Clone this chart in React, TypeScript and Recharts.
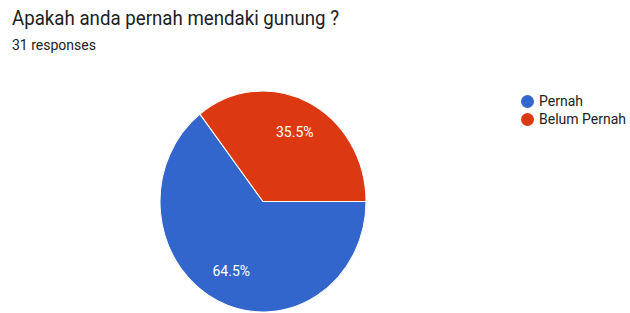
import { PieChart, Pie, Cell } from "recharts";

const categories = ["Pernah", "Belum Pernah"];
const responses = [20, 11];
const colors = ["#3366cc", "#dc3912"];
const title = "Apakah anda pernah mendaki gunung ?";
const subtitle = "31 responses";

const data = categories.map((name, i) => ({ name, value: responses[i] }));

const RAD = Math.PI / 180;

const renderLabel = (props: any) => {
  const { cx, cy, midAngle, outerRadius, percent } = props;
  const r = outerRadius * 0.7;
  const x = cx + r * Math.cos(-midAngle * RAD);
  const y = cy + r * Math.sin(-midAngle * RAD);
  return (
    <text
      x={x}
      y={y}
      fill="#ffffff"
      textAnchor="middle"
      dominantBaseline="central"
      fontSize={14}
      fontFamily="Roboto, Arial, sans-serif"
    >
      {(percent * 100).toFixed(1)}%
    </text>
  );
};

export default function App() {
  return (
    <div
      style={{
        position: "absolute",
        left: 0,
        top: 0,
        width: 630,
        height: 313,
        background: "#ffffff",
        fontFamily: "Roboto, Arial, sans-serif",
        overflow: "hidden",
      }}
    >
      <div
        style={{
          position: "absolute",
          left: 12,
          top: 6,
          fontSize: 18.7,
          lineHeight: "24px",
          color: "#202124",
          whiteSpace: "nowrap",
          transform: "scaleY(1.07)",
          transformOrigin: "0 0",
        }}
      >
        {title}
      </div>
      <div
        style={{
          position: "absolute",
          left: 12,
          top: 36,
          fontSize: 14,
          lineHeight: "18px",
          color: "#202124",
        }}
      >
        {subtitle}
      </div>

      <div
        style={{
          position: "absolute",
          left: 0,
          top: 0,
          transform: "scaleY(1.073)",
          transformOrigin: "263px 201.5px",
        }}
      >
        <PieChart width={630} height={313} margin={{ top: 0, right: 0, bottom: 0, left: 0 }}>
          <Pie
            data={data}
            dataKey="value"
            nameKey="name"
            cx={263}
            cy={201.5}
            outerRadius={103}
            startAngle={0}
            endAngle={-360}
            stroke="#ffffff"
            strokeWidth={1}
            label={renderLabel}
            labelLine={false}
            isAnimationActive={false}
          >
            {data.map((d, i) => (
              <Cell key={d.name} fill={colors[i]} />
            ))}
          </Pie>
        </PieChart>
      </div>

      <div style={{ position: "absolute", left: 521, top: 92 }}>
        {data.map((d, i) => (
          <div
            key={d.name}
            style={{
              display: "flex",
              alignItems: "center",
              height: 18,
              fontSize: 14,
              color: "#222222",
              whiteSpace: "nowrap",
            }}
          >
            <span
              style={{
                display: "inline-block",
                width: 13,
                height: 13,
                borderRadius: "50%",
                background: colors[i],
                marginRight: 5,
              }}
            />
            {d.name}
          </div>
        ))}
      </div>
    </div>
  );
}
